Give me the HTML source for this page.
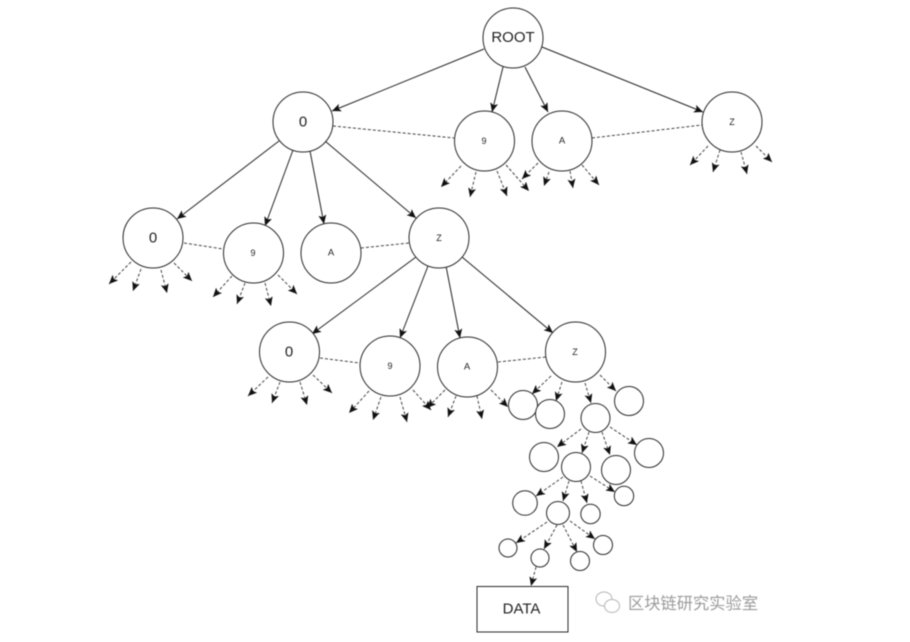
<!DOCTYPE html>
<html><head><meta charset="utf-8"><style>
html,body{margin:0;padding:0;background:#fff;width:910px;height:642px;overflow:hidden}
svg{display:block;filter:blur(.4px)}
.s line{stroke:#222;stroke-width:1}
.d line{stroke:#444;stroke-width:1;stroke-dasharray:3 2}
.l line{stroke:#444;stroke-width:1;stroke-dasharray:3 2}
circle,rect{fill:#fff;stroke:#2a2a2a;stroke-width:1}
text{font-family:"Liberation Sans","Noto Sans CJK SC",sans-serif;fill:#222;text-anchor:middle;dominant-baseline:central}
</style></head><body>
<svg width="910" height="642" viewBox="0 0 910 642" xmlns="http://www.w3.org/2000/svg">
<defs><marker id="a" markerUnits="userSpaceOnUse" markerWidth="10" markerHeight="10" refX="9" refY="4" orient="auto"><path d="M0,0 L9,4 L0,8 L2,4 Z" fill="#111"/></marker></defs>
<g class="s">
<line x1="484" y1="49" x2="332" y2="111" marker-end="url(#a)"/><line x1="503" y1="67" x2="492" y2="112" marker-end="url(#a)"/><line x1="525" y1="67" x2="548" y2="112" marker-end="url(#a)"/><line x1="542" y1="47" x2="703" y2="112" marker-end="url(#a)"/>
<line x1="279" y1="141" x2="177" y2="219" marker-end="url(#a)"/><line x1="293" y1="150" x2="265" y2="226" marker-end="url(#a)"/><line x1="310" y1="151" x2="324" y2="224" marker-end="url(#a)"/><line x1="325" y1="141" x2="416" y2="218" marker-end="url(#a)"/>
<line x1="416" y1="257" x2="312" y2="334" marker-end="url(#a)"/><line x1="428" y1="266" x2="400" y2="338" marker-end="url(#a)"/><line x1="446" y1="266" x2="460" y2="338" marker-end="url(#a)"/><line x1="462" y1="257" x2="553" y2="333" marker-end="url(#a)"/>
</g>
<g class="l">
<line x1="333" y1="126" x2="454" y2="138"/><line x1="592" y1="138" x2="702" y2="125"/>
<line x1="184" y1="243" x2="223" y2="249"/><line x1="361" y1="248" x2="409" y2="243"/>
<line x1="320" y1="358" x2="360" y2="363"/><line x1="498" y1="362" x2="546" y2="357"/>
</g>
<g class="d">
<line x1="461" y1="166" x2="441" y2="187" marker-end="url(#a)"/><line x1="476" y1="172" x2="470" y2="197" marker-end="url(#a)"/><line x1="497" y1="171" x2="507" y2="196" marker-end="url(#a)"/><line x1="506" y1="165" x2="529" y2="191" marker-end="url(#a)"/>
<line x1="538" y1="163" x2="522" y2="179" marker-end="url(#a)"/><line x1="549" y1="172" x2="544" y2="186" marker-end="url(#a)"/><line x1="570" y1="171" x2="573" y2="188" marker-end="url(#a)"/><line x1="582" y1="165" x2="599" y2="185" marker-end="url(#a)"/>
<line x1="708" y1="146" x2="690" y2="165" marker-end="url(#a)"/><line x1="720" y1="150" x2="713" y2="172" marker-end="url(#a)"/><line x1="741" y1="152" x2="747" y2="174" marker-end="url(#a)"/><line x1="756" y1="146" x2="772" y2="162" marker-end="url(#a)"/>
<line x1="131" y1="262" x2="109" y2="284" marker-end="url(#a)"/><line x1="141" y1="269" x2="133" y2="291" marker-end="url(#a)"/><line x1="161" y1="270" x2="167" y2="293" marker-end="url(#a)"/><line x1="174" y1="263" x2="192" y2="281" marker-end="url(#a)"/>
<line x1="232" y1="276" x2="213" y2="297" marker-end="url(#a)"/><line x1="245" y1="283" x2="237" y2="304" marker-end="url(#a)"/><line x1="265" y1="283" x2="271" y2="306" marker-end="url(#a)"/><line x1="278" y1="275" x2="297" y2="294" marker-end="url(#a)"/>
<line x1="268" y1="377" x2="248" y2="396" marker-end="url(#a)"/><line x1="280" y1="382" x2="272" y2="403" marker-end="url(#a)"/><line x1="300" y1="382" x2="307" y2="405" marker-end="url(#a)"/><line x1="313" y1="375" x2="332" y2="393" marker-end="url(#a)"/>
<line x1="369" y1="391" x2="349" y2="413" marker-end="url(#a)"/><line x1="381" y1="397" x2="373" y2="420" marker-end="url(#a)"/><line x1="400" y1="397" x2="407" y2="422" marker-end="url(#a)"/><line x1="413" y1="390" x2="431" y2="410" marker-end="url(#a)"/>
<line x1="445" y1="390" x2="427" y2="408" marker-end="url(#a)"/><line x1="456" y1="396" x2="448" y2="417" marker-end="url(#a)"/><line x1="477" y1="396" x2="482" y2="419" marker-end="url(#a)"/><line x1="491" y1="390" x2="508" y2="407" marker-end="url(#a)"/>
<line x1="551" y1="376" x2="532" y2="394" marker-end="url(#a)"/><line x1="562" y1="382" x2="556" y2="401" marker-end="url(#a)"/><line x1="585" y1="383" x2="591" y2="403" marker-end="url(#a)"/><line x1="600" y1="375" x2="616" y2="391" marker-end="url(#a)"/>
<line x1="581" y1="429" x2="557" y2="447" marker-end="url(#a)"/><line x1="589" y1="432" x2="582" y2="453" marker-end="url(#a)"/><line x1="602" y1="432" x2="610" y2="455" marker-end="url(#a)"/><line x1="610" y1="427" x2="637" y2="445" marker-end="url(#a)"/>
<line x1="563" y1="477" x2="536" y2="496" marker-end="url(#a)"/><line x1="569" y1="481" x2="563" y2="501" marker-end="url(#a)"/><line x1="581" y1="481" x2="587" y2="503" marker-end="url(#a)"/><line x1="590" y1="476" x2="615" y2="492" marker-end="url(#a)"/>
<line x1="547" y1="522" x2="516" y2="543" marker-end="url(#a)"/><line x1="557" y1="525" x2="544" y2="549" marker-end="url(#a)"/><line x1="563" y1="525" x2="577" y2="552" marker-end="url(#a)"/><line x1="570" y1="521" x2="595" y2="539" marker-end="url(#a)"/>
<line x1="536" y1="567" x2="531" y2="586" marker-end="url(#a)"/>
</g>
<g>
<circle cx="513" cy="38" r="30"/><circle cx="303" cy="122" r="30"/><circle cx="484.5" cy="141" r="30"/><circle cx="562" cy="141" r="30"/><circle cx="732" cy="122" r="30"/>
<circle cx="153" cy="238" r="30"/><circle cx="253.5" cy="253" r="30"/><circle cx="331" cy="253" r="30"/><circle cx="439" cy="238" r="30"/>
<circle cx="289.5" cy="352" r="30"/><circle cx="390" cy="366" r="30"/><circle cx="467.5" cy="367" r="30"/><circle cx="575.5" cy="352" r="30"/>
<circle cx="523" cy="405" r="14.5"/><circle cx="550" cy="414" r="14.5"/><circle cx="595.5" cy="418" r="14.5"/><circle cx="629" cy="401" r="14.5"/>
<circle cx="544" cy="457" r="14.5"/><circle cx="576" cy="467" r="14.5"/><circle cx="616" cy="470" r="14.5"/><circle cx="649" cy="453" r="14.5"/>
<circle cx="525" cy="503" r="12.3"/><circle cx="590.5" cy="514" r="9.7"/><circle cx="624" cy="496" r="9.7"/><circle cx="558" cy="513" r="11.5"/>
<circle cx="508" cy="548" r="9"/><circle cx="540" cy="558" r="9"/><circle cx="580" cy="561" r="9.5"/><circle cx="603" cy="545" r="9.5"/>
<rect x="477" y="586.5" width="91" height="45.5"/>
</g>
<text x="513" y="37.5" font-size="15">ROOT</text>
<text x="303" y="122" font-size="15">0</text><text x="484" y="141" font-size="9">9</text><text x="562" y="141" font-size="9.5">A</text><text x="732" y="122" font-size="9">Z</text>
<text x="153" y="238" font-size="15">0</text><text x="253" y="253" font-size="9">9</text><text x="331" y="253" font-size="9.5">A</text><text x="439" y="238" font-size="9">Z</text>
<text x="289" y="352" font-size="15">0</text><text x="390" y="366" font-size="9">9</text><text x="467" y="367" font-size="9.5">A</text><text x="575" y="352" font-size="9">Z</text>
<text x="521.5" y="609" font-size="15">DATA</text>
<g fill="#fff" stroke="#b5b5b5" stroke-width="1"><ellipse cx="604" cy="599" rx="8" ry="7"/><ellipse cx="612" cy="606" rx="7.5" ry="6.5"/></g>
<text x="693" y="604" font-size="16.2" style="fill:#9a9a9a" textLength="130">区块链研究实验室</text>
</svg>
</body></html>
